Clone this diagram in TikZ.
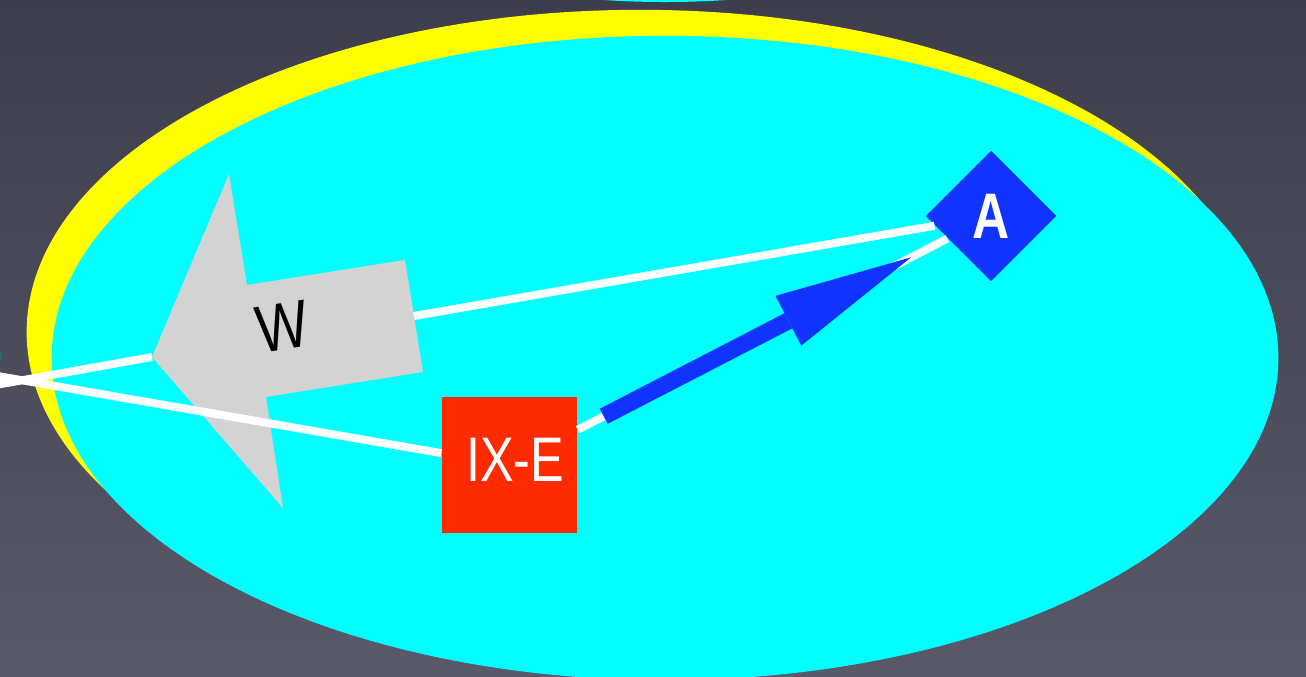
\documentclass[tikz,border=0pt]{standalone}
\usepackage{fontspec}
\setmainfont{Liberation Sans}
\usetikzlibrary{shapes.geometric,arrows.meta}
\definecolor{bgtop}{HTML}{3D3D4B}
\definecolor{bgbot}{HTML}{595969}
\definecolor{ovalyellow}{HTML}{FFFF00}
\definecolor{ovalcyan}{HTML}{00FFFF}
\definecolor{boxred}{HTML}{FF2A00}
\definecolor{diablue}{HTML}{1033FF}
\definecolor{wgray}{HTML}{D3D3D3}
\definecolor{tealbit}{HTML}{1E6E7E}
\begin{document}
\begin{tikzpicture}[x=0.01cm,y=-0.01cm,
  wire/.style={draw=white,line width=0.08cm},
  ixebox/.style={rectangle,fill=boxred,minimum size=1.35cm,inner sep=0pt},
  adiamond/.style={diamond,fill=diablue,minimum size=1.31cm,inner sep=0pt,aspect=1,
    text=white,font=\fontsize{18.3pt}{20pt}\selectfont\bfseries},
  wlabel/.style={inner sep=0pt,text=black,font=\fontsize{19pt}{21pt}\selectfont},
  bluearrow/.style={draw=diablue,line width=0.17cm,
    -{Triangle[length=1.38cm,width=0.56cm,line width=0pt]}},
]
\clip (0,0) rectangle (1306,677);
\shade[top color=bgtop,bottom color=bgbot] (0,0) rectangle (1306,677);
% fragments of neighbouring shapes at the edges
\fill[ovalcyan] (665,-40) ellipse [x radius=2cm,y radius=0.42cm];
\fill[tealbit] (-14,356) ellipse [x radius=0.16cm,y radius=0.12cm];
% ovals
\fill[ovalyellow] (640,332) ellipse [x radius=6.13cm,y radius=3.22cm];
\fill[ovalcyan] (665,358) ellipse [x radius=6.13cm,y radius=3.22cm];
% W arrow
\fill[wgray] (152,357) -- (229,174) -- (247,285) -- (405,260) -- (423,372)
  -- (266,397) -- (283,508) -- cycle;
\node[wlabel,rotate=9] (w) at (282,327) {\scalebox{0.82}[1]{W}};
\coordinate (wtip) at (152,357);
\coordinate (wtail) at (414,316);
% nodes
\node[ixebox,label={[text=white,font=\fontsize{17.9pt}{20pt}\selectfont,
  xshift=0.055cm,yshift=0.055cm,inner sep=0pt]center:\scalebox{0.8}[1]{IX-E}}]
  (ixe) at (509.5,465) {};
\node[adiamond] (a) at (991,216) {\scalebox{0.8}[1]{A}};
\coordinate (offA) at (-60,395);
\coordinate (offB) at (-60,366);
% connectors
\draw[wire] (offA) -- (wtip);
\draw[wire] (wtail) -- (a);
\draw[wire] (offB) -- (ixe);
\draw[wire] (ixe) -- (a);
\draw[bluearrow,shorten <=1.06cm,shorten >=0.9cm] (ixe.center) -- (a.center);
\end{tikzpicture}
\end{document}
